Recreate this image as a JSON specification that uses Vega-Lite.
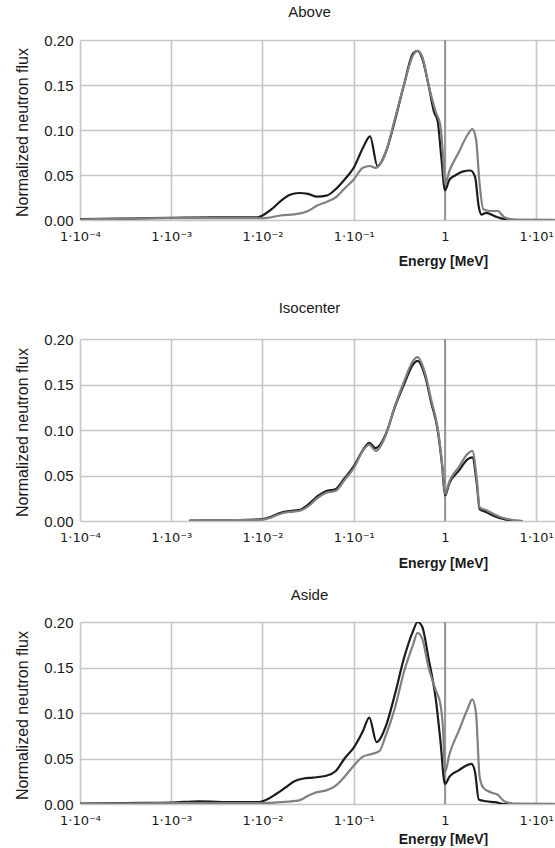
{
"$schema": "https://vega.github.io/schema/vega-lite/v6.json",
"padding": {"left": 13, "top": 5, "right": 0, "bottom": 0},
"background": "white",
"spacing": 18,
"config": {
  "font": "Liberation Sans",
  "view": {"stroke": null},
  "axis": {"domain": false, "ticks": false, "grid": true, "gridColor": "#c6c6c6", "gridWidth": 1.6, "labelFont": "Liberation Sans", "labelFontSize": 15, "labelColor": "#1a1a1a", "titleFont": "Liberation Sans", "titleColor": "#1a1a1a"},
  "axisX": {"labelFont": "DejaVu Sans", "labelFontSize": 13},
  "title": {"font": "Liberation Sans", "fontSize": 15, "fontWeight": "normal", "color": "#1a1a1a", "frame": "group", "baseline": "alphabetic", "dx": -10}
},
"datasets": {
"flux": [
{"panel":"Above","series":"black","E":0.0001,"flux":0.001},{"panel":"Above","series":"black","E":0.000316,"flux":0.0015},{"panel":"Above","series":"black","E":0.001,"flux":0.0025},{"panel":"Above","series":"black","E":0.00316,"flux":0.003},{"panel":"Above","series":"black","E":0.00631,"flux":0.003},{"panel":"Above","series":"black","E":0.00891,"flux":0.003},{"panel":"Above","series":"black","E":0.01,"flux":0.005},{"panel":"Above","series":"black","E":0.0126,"flux":0.012},{"panel":"Above","series":"black","E":0.0158,"flux":0.021},{"panel":"Above","series":"black","E":0.02,"flux":0.028},{"panel":"Above","series":"black","E":0.0251,"flux":0.030},{"panel":"Above","series":"black","E":0.0316,"flux":0.029},{"panel":"Above","series":"black","E":0.0398,"flux":0.026},{"panel":"Above","series":"black","E":0.0501,"flux":0.027},{"panel":"Above","series":"black","E":0.0631,"flux":0.034},{"panel":"Above","series":"black","E":0.0794,"flux":0.045},{"panel":"Above","series":"black","E":0.1,"flux":0.058},{"panel":"Above","series":"black","E":0.126,"flux":0.080},{"panel":"Above","series":"black","E":0.151,"flux":0.093},{"panel":"Above","series":"black","E":0.182,"flux":0.060},{"panel":"Above","series":"black","E":0.224,"flux":0.075},{"panel":"Above","series":"black","E":0.282,"flux":0.110},{"panel":"Above","series":"black","E":0.355,"flux":0.150},{"panel":"Above","series":"black","E":0.447,"flux":0.185},{"panel":"Above","series":"black","E":0.501,"flux":0.188},{"panel":"Above","series":"black","E":0.562,"flux":0.180},{"panel":"Above","series":"black","E":0.661,"flux":0.150},{"panel":"Above","series":"black","E":0.759,"flux":0.120},{"panel":"Above","series":"black","E":0.832,"flux":0.110},{"panel":"Above","series":"black","E":0.912,"flux":0.070},{"panel":"Above","series":"black","E":1,"flux":0.033},{"panel":"Above","series":"black","E":1.122,"flux":0.045},{"panel":"Above","series":"black","E":1.318,"flux":0.050},{"panel":"Above","series":"black","E":1.585,"flux":0.054},{"panel":"Above","series":"black","E":1.905,"flux":0.055},{"panel":"Above","series":"black","E":2.138,"flux":0.048},{"panel":"Above","series":"black","E":2.344,"flux":0.015},{"panel":"Above","series":"black","E":2.512,"flux":0.006},{"panel":"Above","series":"black","E":2.818,"flux":0.008},{"panel":"Above","series":"black","E":3.548,"flux":0.004},{"panel":"Above","series":"black","E":4.467,"flux":0.001},{"panel":"Above","series":"black","E":6.31,"flux":0},{"panel":"Above","series":"black","E":39.81,"flux":0},
{"panel":"Above","series":"gray","E":0.0001,"flux":0.0005},{"panel":"Above","series":"gray","E":0.001,"flux":0.002},{"panel":"Above","series":"gray","E":0.01,"flux":0.002},{"panel":"Above","series":"gray","E":0.0158,"flux":0.005},{"panel":"Above","series":"gray","E":0.0251,"flux":0.007},{"panel":"Above","series":"gray","E":0.0316,"flux":0.010},{"panel":"Above","series":"gray","E":0.0398,"flux":0.016},{"panel":"Above","series":"gray","E":0.0501,"flux":0.020},{"panel":"Above","series":"gray","E":0.0631,"flux":0.025},{"panel":"Above","series":"gray","E":0.0794,"flux":0.035},{"panel":"Above","series":"gray","E":0.1,"flux":0.045},{"panel":"Above","series":"gray","E":0.126,"flux":0.058},{"panel":"Above","series":"gray","E":0.151,"flux":0.060},{"panel":"Above","series":"gray","E":0.174,"flux":0.058},{"panel":"Above","series":"gray","E":0.224,"flux":0.075},{"panel":"Above","series":"gray","E":0.282,"flux":0.112},{"panel":"Above","series":"gray","E":0.355,"flux":0.150},{"panel":"Above","series":"gray","E":0.447,"flux":0.183},{"panel":"Above","series":"gray","E":0.501,"flux":0.188},{"panel":"Above","series":"gray","E":0.562,"flux":0.182},{"panel":"Above","series":"gray","E":0.661,"flux":0.150},{"panel":"Above","series":"gray","E":0.794,"flux":0.120},{"panel":"Above","series":"gray","E":0.891,"flux":0.105},{"panel":"Above","series":"gray","E":0.955,"flux":0.070},{"panel":"Above","series":"gray","E":1,"flux":0.040},{"panel":"Above","series":"gray","E":1.122,"flux":0.055},{"panel":"Above","series":"gray","E":1.413,"flux":0.075},{"panel":"Above","series":"gray","E":1.778,"flux":0.095},{"panel":"Above","series":"gray","E":1.995,"flux":0.101},{"panel":"Above","series":"gray","E":2.188,"flux":0.090},{"panel":"Above","series":"gray","E":2.399,"flux":0.040},{"panel":"Above","series":"gray","E":2.63,"flux":0.012},{"panel":"Above","series":"gray","E":3.162,"flux":0.010},{"panel":"Above","series":"gray","E":3.802,"flux":0.010},{"panel":"Above","series":"gray","E":4.467,"flux":0.003},{"panel":"Above","series":"gray","E":5.623,"flux":0.0005},{"panel":"Above","series":"gray","E":39.81,"flux":0},
{"panel":"Isocenter","series":"black","E":0.00158,"flux":0.0005},{"panel":"Isocenter","series":"black","E":0.005,"flux":0.001},{"panel":"Isocenter","series":"black","E":0.01,"flux":0.002},{"panel":"Isocenter","series":"black","E":0.0126,"flux":0.005},{"panel":"Isocenter","series":"black","E":0.0158,"flux":0.009},{"panel":"Isocenter","series":"black","E":0.02,"flux":0.011},{"panel":"Isocenter","series":"black","E":0.0251,"flux":0.012},{"panel":"Isocenter","series":"black","E":0.0316,"flux":0.018},{"panel":"Isocenter","series":"black","E":0.0398,"flux":0.027},{"panel":"Isocenter","series":"black","E":0.0501,"flux":0.033},{"panel":"Isocenter","series":"black","E":0.0631,"flux":0.035},{"panel":"Isocenter","series":"black","E":0.0794,"flux":0.047},{"panel":"Isocenter","series":"black","E":0.1,"flux":0.060},{"panel":"Isocenter","series":"black","E":0.126,"flux":0.078},{"panel":"Isocenter","series":"black","E":0.148,"flux":0.086},{"panel":"Isocenter","series":"black","E":0.174,"flux":0.080},{"panel":"Isocenter","series":"black","E":0.224,"flux":0.095},{"panel":"Isocenter","series":"black","E":0.282,"flux":0.125},{"panel":"Isocenter","series":"black","E":0.355,"flux":0.150},{"panel":"Isocenter","series":"black","E":0.447,"flux":0.172},{"panel":"Isocenter","series":"black","E":0.501,"flux":0.176},{"panel":"Isocenter","series":"black","E":0.603,"flux":0.160},{"panel":"Isocenter","series":"black","E":0.708,"flux":0.130},{"panel":"Isocenter","series":"black","E":0.832,"flux":0.100},{"panel":"Isocenter","series":"black","E":0.933,"flux":0.060},{"panel":"Isocenter","series":"black","E":1,"flux":0.028},{"panel":"Isocenter","series":"black","E":1.122,"flux":0.042},{"panel":"Isocenter","series":"black","E":1.413,"flux":0.055},{"panel":"Isocenter","series":"black","E":1.778,"flux":0.068},{"panel":"Isocenter","series":"black","E":1.995,"flux":0.070},{"panel":"Isocenter","series":"black","E":2.239,"flux":0.040},{"panel":"Isocenter","series":"black","E":2.399,"flux":0.013},{"panel":"Isocenter","series":"black","E":2.818,"flux":0.010},{"panel":"Isocenter","series":"black","E":3.548,"flux":0.005},{"panel":"Isocenter","series":"black","E":4.467,"flux":0.002},{"panel":"Isocenter","series":"black","E":5.623,"flux":0.0005},{"panel":"Isocenter","series":"black","E":7.079,"flux":0},
{"panel":"Isocenter","series":"gray","E":0.00158,"flux":0.0003},{"panel":"Isocenter","series":"gray","E":0.005,"flux":0.001},{"panel":"Isocenter","series":"gray","E":0.01,"flux":0.0015},{"panel":"Isocenter","series":"gray","E":0.0126,"flux":0.004},{"panel":"Isocenter","series":"gray","E":0.0158,"flux":0.008},{"panel":"Isocenter","series":"gray","E":0.02,"flux":0.010},{"panel":"Isocenter","series":"gray","E":0.0251,"flux":0.011},{"panel":"Isocenter","series":"gray","E":0.0316,"flux":0.016},{"panel":"Isocenter","series":"gray","E":0.0398,"flux":0.025},{"panel":"Isocenter","series":"gray","E":0.0501,"flux":0.031},{"panel":"Isocenter","series":"gray","E":0.0631,"flux":0.033},{"panel":"Isocenter","series":"gray","E":0.0794,"flux":0.045},{"panel":"Isocenter","series":"gray","E":0.1,"flux":0.058},{"panel":"Isocenter","series":"gray","E":0.126,"flux":0.077},{"panel":"Isocenter","series":"gray","E":0.148,"flux":0.084},{"panel":"Isocenter","series":"gray","E":0.174,"flux":0.077},{"panel":"Isocenter","series":"gray","E":0.224,"flux":0.094},{"panel":"Isocenter","series":"gray","E":0.282,"flux":0.126},{"panel":"Isocenter","series":"gray","E":0.355,"flux":0.153},{"panel":"Isocenter","series":"gray","E":0.447,"flux":0.176},{"panel":"Isocenter","series":"gray","E":0.501,"flux":0.180},{"panel":"Isocenter","series":"gray","E":0.603,"flux":0.163},{"panel":"Isocenter","series":"gray","E":0.708,"flux":0.133},{"panel":"Isocenter","series":"gray","E":0.832,"flux":0.102},{"panel":"Isocenter","series":"gray","E":0.933,"flux":0.062},{"panel":"Isocenter","series":"gray","E":1,"flux":0.030},{"panel":"Isocenter","series":"gray","E":1.122,"flux":0.044},{"panel":"Isocenter","series":"gray","E":1.413,"flux":0.059},{"panel":"Isocenter","series":"gray","E":1.778,"flux":0.074},{"panel":"Isocenter","series":"gray","E":1.995,"flux":0.077},{"panel":"Isocenter","series":"gray","E":2.239,"flux":0.045},{"panel":"Isocenter","series":"gray","E":2.399,"flux":0.015},{"panel":"Isocenter","series":"gray","E":2.818,"flux":0.012},{"panel":"Isocenter","series":"gray","E":3.548,"flux":0.007},{"panel":"Isocenter","series":"gray","E":4.467,"flux":0.003},{"panel":"Isocenter","series":"gray","E":5.623,"flux":0.001},{"panel":"Isocenter","series":"gray","E":7.079,"flux":0},
{"panel":"Aside","series":"black","E":0.0001,"flux":0.0005},{"panel":"Aside","series":"black","E":0.000316,"flux":0.001},{"panel":"Aside","series":"black","E":0.001,"flux":0.0015},{"panel":"Aside","series":"black","E":0.002,"flux":0.003},{"panel":"Aside","series":"black","E":0.005,"flux":0.002},{"panel":"Aside","series":"black","E":0.00891,"flux":0.002},{"panel":"Aside","series":"black","E":0.0112,"flux":0.005},{"panel":"Aside","series":"black","E":0.0141,"flux":0.011},{"panel":"Aside","series":"black","E":0.0178,"flux":0.018},{"panel":"Aside","series":"black","E":0.0224,"flux":0.025},{"panel":"Aside","series":"black","E":0.0282,"flux":0.028},{"panel":"Aside","series":"black","E":0.0355,"flux":0.029},{"panel":"Aside","series":"black","E":0.0501,"flux":0.031},{"panel":"Aside","series":"black","E":0.0631,"flux":0.036},{"panel":"Aside","series":"black","E":0.0794,"flux":0.050},{"panel":"Aside","series":"black","E":0.1,"flux":0.062},{"panel":"Aside","series":"black","E":0.126,"flux":0.080},{"panel":"Aside","series":"black","E":0.148,"flux":0.095},{"panel":"Aside","series":"black","E":0.178,"flux":0.068},{"panel":"Aside","series":"black","E":0.224,"flux":0.085},{"panel":"Aside","series":"black","E":0.282,"flux":0.120},{"panel":"Aside","series":"black","E":0.355,"flux":0.160},{"panel":"Aside","series":"black","E":0.447,"flux":0.190},{"panel":"Aside","series":"black","E":0.501,"flux":0.200},{"panel":"Aside","series":"black","E":0.562,"flux":0.195},{"panel":"Aside","series":"black","E":0.661,"flux":0.160},{"panel":"Aside","series":"black","E":0.794,"flux":0.115},{"panel":"Aside","series":"black","E":0.891,"flux":0.070},{"panel":"Aside","series":"black","E":1,"flux":0.022},{"panel":"Aside","series":"black","E":1.122,"flux":0.030},{"panel":"Aside","series":"black","E":1.413,"flux":0.037},{"panel":"Aside","series":"black","E":1.778,"flux":0.043},{"panel":"Aside","series":"black","E":1.95,"flux":0.044},{"panel":"Aside","series":"black","E":2.138,"flux":0.035},{"panel":"Aside","series":"black","E":2.344,"flux":0.005},{"panel":"Aside","series":"black","E":2.818,"flux":0.003},{"panel":"Aside","series":"black","E":3.548,"flux":0.002},{"panel":"Aside","series":"black","E":4.467,"flux":0},{"panel":"Aside","series":"black","E":39.81,"flux":0},
{"panel":"Aside","series":"gray","E":0.0001,"flux":0},{"panel":"Aside","series":"gray","E":0.001,"flux":0.001},{"panel":"Aside","series":"gray","E":0.01,"flux":0.001},{"panel":"Aside","series":"gray","E":0.0158,"flux":0.002},{"panel":"Aside","series":"gray","E":0.0251,"flux":0.004},{"panel":"Aside","series":"gray","E":0.0316,"flux":0.009},{"panel":"Aside","series":"gray","E":0.0398,"flux":0.013},{"panel":"Aside","series":"gray","E":0.0501,"flux":0.015},{"panel":"Aside","series":"gray","E":0.0631,"flux":0.020},{"panel":"Aside","series":"gray","E":0.0794,"flux":0.030},{"panel":"Aside","series":"gray","E":0.1,"flux":0.042},{"panel":"Aside","series":"gray","E":0.126,"flux":0.052},{"panel":"Aside","series":"gray","E":0.158,"flux":0.055},{"panel":"Aside","series":"gray","E":0.191,"flux":0.058},{"panel":"Aside","series":"gray","E":0.224,"flux":0.075},{"panel":"Aside","series":"gray","E":0.282,"flux":0.105},{"panel":"Aside","series":"gray","E":0.355,"flux":0.145},{"panel":"Aside","series":"gray","E":0.447,"flux":0.175},{"panel":"Aside","series":"gray","E":0.501,"flux":0.188},{"panel":"Aside","series":"gray","E":0.562,"flux":0.182},{"panel":"Aside","series":"gray","E":0.661,"flux":0.150},{"panel":"Aside","series":"gray","E":0.794,"flux":0.125},{"panel":"Aside","series":"gray","E":0.891,"flux":0.110},{"panel":"Aside","series":"gray","E":0.955,"flux":0.080},{"panel":"Aside","series":"gray","E":1,"flux":0.035},{"panel":"Aside","series":"gray","E":1.122,"flux":0.055},{"panel":"Aside","series":"gray","E":1.413,"flux":0.080},{"panel":"Aside","series":"gray","E":1.778,"flux":0.105},{"panel":"Aside","series":"gray","E":1.995,"flux":0.115},{"panel":"Aside","series":"gray","E":2.188,"flux":0.100},{"panel":"Aside","series":"gray","E":2.399,"flux":0.030},{"panel":"Aside","series":"gray","E":2.63,"flux":0.018},{"panel":"Aside","series":"gray","E":3.162,"flux":0.013},{"panel":"Aside","series":"gray","E":3.802,"flux":0.010},{"panel":"Aside","series":"gray","E":4.467,"flux":0.003},{"panel":"Aside","series":"gray","E":5.623,"flux":0.0005},{"panel":"Aside","series":"gray","E":39.81,"flux":0}
],
"one": [{"E": 1}]
},
"vconcat": [
{
  "title": {"text": "Above", "offset": 13},
  "width": 479, "height": 180,
  "layer": [
    {"data": {"name": "one"}, "mark": {"type": "rule", "color": "#8a8a8a", "strokeWidth": 1.6},
     "encoding": {"x": {"field": "E", "type": "quantitative", "scale": {"type": "log", "domain": [0.0001, 17.78]}}}},
    {"data": {"name": "flux"}, "transform": [{"filter": "datum.panel === 'Above'"}],
     "mark": {"type": "line", "interpolate": "monotone", "strokeWidth": 2.2, "clip": true},
     "encoding": {
       "x": {"field": "E", "type": "quantitative", "scale": {"type": "log", "domain": [0.0001, 17.78]},
             "axis": {"values": [0.0001, 0.001, 0.01, 0.1, 1, 10], "labelPadding": 10, "labelFlush": false, "labelOverlap": false,
                      "labelExpr": "datum.value == 1 ? '1' : datum.value == 10 ? '1·10¹' : datum.value == 0.1 ? '1·10⁻¹' : datum.value == 0.01 ? '1·10⁻²' : datum.value == 0.001 ? '1·10⁻³' : '1·10⁻⁴'",
                      "title": ["Energy [MeV]", " "], "titleFontSize": 14, "titleFontWeight": "bold", "titleX": 363, "titleY": 45, "titleAlign": "center", "titleBaseline": "alphabetic", "titleLineHeight": 15}},
       "y": {"field": "flux", "type": "quantitative", "scale": {"domain": [0, 0.2]},
             "axis": {"values": [0, 0.05, 0.1, 0.15, 0.2], "format": ".2f", "labelPadding": 7, "title": "Normalized neutron flux", "titleFontSize": 16, "titleFontWeight": "normal", "titleX": -53, "titleY": 92, "titleAngle": -90, "titleAlign": "center", "titleBaseline": "alphabetic"}},
       "color": {"field": "series", "type": "nominal", "scale": {"domain": ["black", "gray"], "range": ["#1c1c1c", "#808080"]}, "legend": null}
     }}
  ]
},
{
  "title": {"text": "Isocenter", "offset": 16},
  "width": 479, "height": 182,
  "layer": [
    {"data": {"name": "one"}, "mark": {"type": "rule", "color": "#8a8a8a", "strokeWidth": 1.6},
     "encoding": {"x": {"field": "E", "type": "quantitative", "scale": {"type": "log", "domain": [0.0001, 17.78]}}}},
    {"data": {"name": "flux"}, "transform": [{"filter": "datum.panel === 'Isocenter'"}],
     "mark": {"type": "line", "interpolate": "monotone", "strokeWidth": 2.2, "clip": true},
     "encoding": {
       "x": {"field": "E", "type": "quantitative", "scale": {"type": "log", "domain": [0.0001, 17.78]},
             "axis": {"values": [0.0001, 0.001, 0.01, 0.1, 1, 10], "labelPadding": 10, "labelFlush": false, "labelOverlap": false,
                      "labelExpr": "datum.value == 1 ? '1' : datum.value == 10 ? '1·10¹' : datum.value == 0.1 ? '1·10⁻¹' : datum.value == 0.01 ? '1·10⁻²' : datum.value == 0.001 ? '1·10⁻³' : '1·10⁻⁴'",
                      "title": "Energy [MeV]", "titleFontSize": 14, "titleFontWeight": "bold", "titleX": 363, "titleY": 46, "titleAlign": "center", "titleBaseline": "alphabetic"}},
       "y": {"field": "flux", "type": "quantitative", "scale": {"domain": [0, 0.2]},
             "axis": {"values": [0, 0.05, 0.1, 0.15, 0.2], "format": ".2f", "labelPadding": 7, "title": "Normalized neutron flux", "titleFontSize": 16, "titleFontWeight": "normal", "titleX": -53, "titleY": 93, "titleAngle": -90, "titleAlign": "center", "titleBaseline": "alphabetic"}},
       "color": {"field": "series", "type": "nominal", "scale": {"domain": ["black", "gray"], "range": ["#1c1c1c", "#808080"]}, "legend": null}
     }}
  ]
},
{
  "title": {"text": "Aside", "offset": 12},
  "width": 479, "height": 182,
  "layer": [
    {"data": {"name": "one"}, "mark": {"type": "rule", "color": "#8a8a8a", "strokeWidth": 1.6},
     "encoding": {"x": {"field": "E", "type": "quantitative", "scale": {"type": "log", "domain": [0.0001, 17.78]}}}},
    {"data": {"name": "flux"}, "transform": [{"filter": "datum.panel === 'Aside'"}],
     "mark": {"type": "line", "interpolate": "monotone", "strokeWidth": 2.2, "clip": true},
     "encoding": {
       "x": {"field": "E", "type": "quantitative", "scale": {"type": "log", "domain": [0.0001, 17.78]},
             "axis": {"values": [0.0001, 0.001, 0.01, 0.1, 1, 10], "labelPadding": 10, "labelFlush": false, "labelOverlap": false,
                      "labelExpr": "datum.value == 1 ? '1' : datum.value == 10 ? '1·10¹' : datum.value == 0.1 ? '1·10⁻¹' : datum.value == 0.01 ? '1·10⁻²' : datum.value == 0.001 ? '1·10⁻³' : '1·10⁻⁴'",
                      "title": "Energy [MeV]", "titleFontSize": 14, "titleFontWeight": "bold", "titleX": 363, "titleY": 39, "titleAlign": "center", "titleBaseline": "alphabetic"}},
       "y": {"field": "flux", "type": "quantitative", "scale": {"domain": [0, 0.2]},
             "axis": {"values": [0, 0.05, 0.1, 0.15, 0.2], "format": ".2f", "labelPadding": 7, "title": "Normalized neutron flux", "titleFontSize": 16, "titleFontWeight": "normal", "titleX": -53, "titleY": 93, "titleAngle": -90, "titleAlign": "center", "titleBaseline": "alphabetic"}},
       "color": {"field": "series", "type": "nominal", "scale": {"domain": ["black", "gray"], "range": ["#1c1c1c", "#808080"]}, "legend": null}
     }}
  ]
}
]
}
